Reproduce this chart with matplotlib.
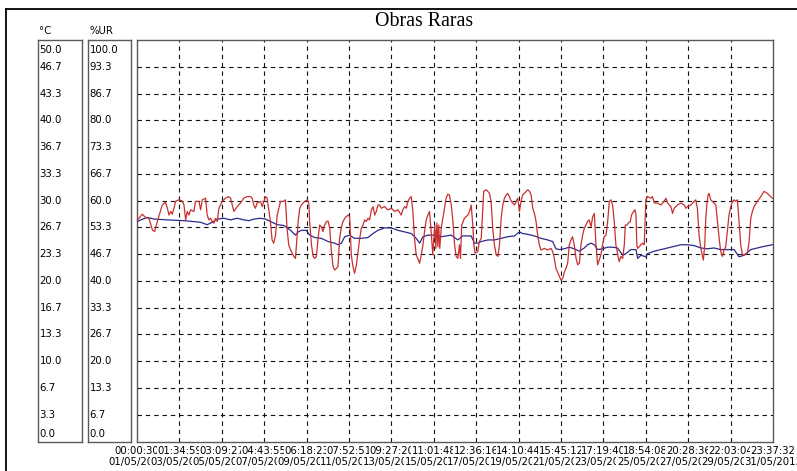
import matplotlib
matplotlib.use("Agg")
import matplotlib.pyplot as plt
from matplotlib.lines import Line2D
from matplotlib.transforms import blended_transform_factory

# ---------------- data ----------------
title = "Obras Raras"
temp_unit = "°C"
rh_unit = "%UR"

temp_labels = ["0.0", "3.3", "6.7", "10.0", "13.3", "16.7", "20.0", "23.3",
               "26.7", "30.0", "33.3", "36.7", "40.0", "43.3", "46.7", "50.0"]
rh_labels = ["0.0", "6.7", "13.3", "20.0", "26.7", "33.3", "40.0", "46.7",
             "53.3", "60.0", "66.7", "73.3", "80.0", "86.7", "93.3", "100.0"]

time_labels = ["00:00:30", "01:34:59", "03:09:27", "04:43:55", "06:18:23",
               "07:52:51", "09:27:20", "11:01:48", "12:36:16", "14:10:44",
               "15:45:12", "17:19:40", "18:54:08", "20:28:36", "22:03:04",
               "23:37:32"]
date_labels = ["01/05/2013", "03/05/2013", "05/05/2013", "07/05/2013",
               "09/05/2013", "11/05/2013", "13/05/2013", "15/05/2013",
               "17/05/2013", "19/05/2013", "21/05/2013", "23/05/2013",
               "25/05/2013", "27/05/2013", "29/05/2013", "31/05/2013"]

span_days = 30.984  # 01/05 00:00:30 -> 31/05 23:37:32

# relative humidity readings: (days since start, %UR)
humidity = [
    (0.02, 55.2), (0.26, 56.6), (0.42, 55.8), (0.58, 55.6), (0.75, 52.7), (0.86, 52.3),
    (0.99, 54.8), (1.23, 58.9), (1.39, 59.6), (1.48, 58.1), (1.56, 56.4), (1.64, 57.3),
    (1.72, 56.6), (1.80, 58.1), (1.88, 59.8), (2.04, 60.2), (2.20, 59.9), (2.29, 58.9),
    (2.37, 55.2), (2.45, 57.3), (2.53, 56.4), (2.61, 57.7), (2.77, 57.3), (2.85, 59.8),
    (3.02, 59.8), (3.10, 57.7), (3.18, 60.2), (3.34, 60.6), (3.42, 56.4), (3.50, 55.2),
    (3.58, 55.6), (3.66, 54.8), (3.75, 54.4), (3.83, 55.6), (3.91, 54.8), (3.99, 58.1),
    (4.15, 59.8), (4.31, 60.6), (4.47, 61.0), (4.56, 60.6), (4.64, 58.9), (4.72, 57.3),
    (4.88, 58.5), (5.04, 59.4), (5.20, 60.6), (5.37, 61.0), (5.53, 61.0), (5.61, 60.6),
    (5.69, 58.9), (5.77, 58.1), (5.85, 59.4), (6.02, 59.8), (6.10, 58.5), (6.18, 59.8),
    (6.26, 61.0), (6.34, 60.6), (6.42, 57.7), (6.50, 54.8), (6.58, 50.2), (6.66, 49.4),
    (6.75, 51.4), (6.83, 56.4), (6.91, 58.1), (6.99, 59.8), (7.15, 59.8), (7.23, 60.2),
    (7.31, 53.1), (7.39, 49.0), (7.48, 47.7), (7.64, 46.1), (7.72, 45.6),
    (7.77, 49.0), (7.85, 54.8), (7.93, 58.1), (8.01, 58.9), (8.17, 59.8), (8.30, 60.2),
    (8.37, 59.4), (8.41, 54.8), (8.50, 49.0), (8.58, 46.1), (8.66, 45.6), (8.74, 46.1),
    (8.82, 50.6), (8.90, 53.9), (8.98, 53.5), (9.06, 52.3), (9.14, 53.9), (9.23, 54.8),
    (9.31, 54.9), (9.39, 53.1), (9.47, 47.3), (9.55, 43.6), (9.63, 42.7), (9.71, 43.1),
    (9.79, 43.6), (9.87, 50.6), (9.96, 53.5), (10.04, 54.8), (10.12, 55.6), (10.20, 56.0),
    (10.28, 56.4), (10.36, 56.0), (10.44, 46.5), (10.52, 43.6), (10.60, 41.9), (10.69, 44.0),
    (10.77, 47.3), (10.85, 50.6), (10.93, 53.1), (11.01, 53.9), (11.09, 55.2), (11.17, 54.8),
    (11.25, 55.6), (11.33, 55.2), (11.42, 57.7), (11.50, 58.5), (11.58, 56.4), (11.66, 57.3),
    (11.74, 58.9), (11.82, 58.9), (11.90, 58.1), (12.06, 58.5), (12.22, 57.7), (12.39, 58.1),
    (12.55, 57.3), (12.71, 57.7), (12.87, 56.4), (12.95, 57.7), (13.04, 58.5), (13.12, 58.1),
    (13.20, 59.8), (13.28, 60.6), (13.36, 61.0), (13.44, 57.3), (13.52, 50.6), (13.60, 46.5),
    (13.68, 45.6), (13.77, 44.4), (13.85, 46.5), (13.93, 49.0), (14.01, 52.3), (14.09, 55.2),
    (14.17, 56.4), (14.25, 57.3), (14.33, 52.3), (14.41, 46.5), (14.46, 50.6), (14.51, 53.9),
    (14.56, 48.1), (14.61, 54.4), (14.66, 48.5), (14.70, 53.9), (14.75, 48.1), (14.82, 53.1),
    (14.90, 55.6), (14.98, 58.1), (15.06, 60.6), (15.14, 61.6), (15.22, 61.4), (15.31, 58.9),
    (15.39, 54.8), (15.47, 49.0), (15.55, 46.1), (15.63, 45.6), (15.71, 49.0),
    (15.76, 45.6), (15.82, 53.9), (15.95, 55.6), (16.12, 56.4), (16.20, 57.3), (16.28, 58.9),
    (16.36, 53.9), (16.41, 49.0), (16.47, 46.9), (16.60, 47.3), (16.68, 49.8), (16.77, 50.6),
    (16.85, 58.1), (16.89, 62.3), (17.01, 62.7), (17.09, 62.3), (17.17, 61.8), (17.25, 59.8),
    (17.33, 53.1), (17.41, 49.0), (17.50, 46.5), (17.58, 46.1), (17.66, 49.0), (17.74, 55.6),
    (17.82, 58.9), (17.90, 60.6), (17.98, 61.4), (18.06, 61.8), (18.14, 61.0), (18.23, 59.8),
    (18.31, 59.4), (18.39, 58.9), (18.47, 59.8), (18.55, 60.6), (18.63, 57.3), (18.71, 59.8),
    (18.79, 61.4), (18.87, 61.8), (18.96, 62.3), (19.04, 62.7), (19.12, 62.3), (19.20, 61.4),
    (19.28, 58.1), (19.36, 56.8), (19.44, 54.8), (19.52, 51.4), (19.60, 49.0), (19.68, 47.7),
    (19.85, 48.1), (20.01, 47.7), (20.17, 48.1), (20.25, 47.3), (20.33, 45.6), (20.41, 43.1),
    (20.49, 42.2), (20.58, 41.1), (20.66, 40.2), (20.74, 40.6), (20.82, 42.2), (20.90, 43.1),
    (20.98, 44.4), (21.06, 49.0), (21.14, 50.2), (21.22, 51.0), (21.30, 49.0), (21.39, 45.6),
    (21.47, 44.0), (21.55, 44.4), (21.63, 49.0), (21.71, 51.4), (21.79, 53.1), (21.87, 53.9),
    (21.95, 54.8), (22.03, 55.2), (22.12, 53.5), (22.20, 56.0), (22.28, 56.8), (22.36, 49.0),
    (22.44, 44.0), (22.52, 45.2), (22.60, 46.5), (22.68, 49.0), (22.76, 51.0), (22.85, 51.4),
    (22.93, 54.8), (23.01, 59.8), (23.09, 60.2), (23.17, 58.9), (23.25, 54.8), (23.33, 49.0),
    (23.41, 46.9),
    (23.49, 44.8), (23.58, 46.1), (23.66, 45.6), (23.74, 49.0), (23.79, 53.9), (23.87, 53.9),
    (23.93, 54.4), (24.03, 54.8), (24.09, 56.4), (24.19, 57.3), (24.26, 57.7), (24.31, 56.4),
    (24.35, 49.0), (24.39, 48.1), (24.47, 48.5), (24.55, 49.0), (24.63, 49.4), (24.71, 49.0),
    (24.74, 53.1), (24.79, 60.2), (24.87, 61.0), (25.04, 60.6), (25.11, 61.0), (25.20, 59.4),
    (25.36, 59.4), (25.52, 58.9), (25.68, 59.8), (25.77, 60.6), (25.85, 59.4), (26.01, 58.5),
    (26.09, 56.8), (26.17, 58.1), (26.33, 58.9), (26.49, 59.4), (26.66, 58.9), (26.74, 58.1),
    (26.82, 58.5), (26.98, 58.9), (27.14, 59.8), (27.22, 60.2), (27.30, 58.1), (27.38, 51.4),
    (27.47, 48.1), (27.55, 46.1), (27.59, 45.2), (27.66, 49.0), (27.71, 55.6), (27.76, 58.9),
    (27.82, 61.4), (27.87, 61.8), (27.95, 60.2), (28.03, 59.8), (28.11, 59.4), (28.20, 58.9),
    (28.28, 54.8), (28.36, 50.6), (28.44, 47.3), (28.52, 46.1), (28.60, 47.7), (28.68, 48.5),
    (28.76, 52.3), (28.84, 56.4), (28.93, 58.5), (29.01, 59.8), (29.09, 60.2), (29.17, 59.8),
    (29.25, 60.2), (29.33, 54.8), (29.41, 49.0), (29.50, 46.5), (29.58, 46.5), (29.74, 46.9),
    (29.82, 49.8), (29.90, 55.6), (29.98, 57.3), (30.06, 58.5), (30.22, 59.8), (30.39, 61.0),
    (30.55, 62.3), (30.71, 61.8), (30.79, 61.4), (30.87, 61.0), (30.95, 60.6),
]

# temperature readings: (days since start, °C)
temperature = [
    (0.02, 27.4), (0.18, 27.6), (0.50, 27.9), (0.83, 27.7), (1.48, 27.6), (2.29, 27.5),
    (3.10, 27.3), (3.42, 27.0), (3.66, 27.3), (3.91, 27.7), (4.23, 27.8), (4.56, 27.6),
    (4.88, 27.8), (5.20, 27.6), (5.45, 27.5), (5.69, 27.7), (6.02, 27.8), (6.26, 27.7),
    (6.50, 27.4), (6.83, 27.0), (7.15, 26.9), (7.48, 26.3), (7.72, 25.7), (7.85, 26.1),
    (8.01, 26.3), (8.25, 26.3), (8.41, 25.7), (8.66, 25.4), (8.98, 25.3), (9.31, 24.9),
    (9.63, 24.7), (9.79, 24.5), (9.96, 24.7), (10.12, 25.5), (10.36, 25.7), (10.60, 25.3),
    (10.93, 25.3), (11.25, 25.4), (11.50, 25.9), (11.74, 26.3), (12.06, 26.6), (12.39, 26.6),
    (12.71, 26.3), (13.04, 26.1), (13.36, 25.9), (13.60, 25.3), (13.77, 24.7), (13.93, 25.5),
    (14.17, 25.7), (14.50, 25.7), (14.82, 25.5), (15.31, 25.7), (15.63, 25.1), (15.87, 25.6),
    (16.28, 25.6), (16.44, 24.7), (16.60, 24.7), (16.77, 24.9), (17.09, 25.1), (17.41, 25.1),
    (17.74, 25.3), (18.06, 25.5), (18.39, 25.6), (18.63, 26.1), (18.79, 25.9), (19.04, 25.8),
    (19.36, 25.6), (19.68, 25.3), (20.01, 25.1), (20.25, 24.9), (20.41, 24.0), (20.58, 23.9),
    (20.82, 24.0), (21.06, 24.2), (21.30, 24.0), (21.55, 23.7), (21.79, 24.1), (21.95, 24.5),
    (22.12, 24.7), (22.28, 24.5), (22.44, 23.9), (22.68, 24.0), (22.93, 24.2), (23.17, 24.2),
    (23.41, 24.1), (23.66, 23.2), (23.82, 23.4), (24.06, 23.9), (24.31, 23.9), (24.39, 22.8),
    (24.55, 23.2), (24.79, 23.0), (24.87, 23.4), (25.20, 23.7), (25.52, 23.9), (25.85, 24.1),
    (26.17, 24.3), (26.49, 24.5), (26.82, 24.5), (27.14, 24.4), (27.47, 24.1), (27.79, 24.0),
    (28.11, 24.1), (28.44, 23.9), (28.76, 23.9), (29.09, 23.9), (29.33, 23.0), (29.58, 23.2),
    (29.90, 23.9), (30.22, 24.1), (30.55, 24.3), (30.95, 24.5),
]

# ---------------- layout ----------------
W, H = 797, 471
fig = plt.figure(figsize=(W / 100, H / 100), dpi=100)
fig.patch.set_facecolor("white")


def rect(x0, y0, x1, y1):
    return [x0 / W, 1 - y1 / H, (x1 - x0) / W, (y1 - y0) / H]


TOP, BOT = 40, 441.5
box_col = "#5a5a5a"
fs = 7.3
n_div = 15

# outer frame
fig.add_artist(Line2D([6 / W, 1.0], [1 - 9 / H, 1 - 9 / H], color="black", lw=1.3))
fig.add_artist(Line2D([6 / W, 6 / W], [0, 1 - 9 / H], color="black", lw=1.3))

fig.text(424 / W, 1 - 21 / H, title, family="Liberation Serif", fontsize=14.3,
         ha="center", va="center")

# main plot
ax = fig.add_axes(rect(137, TOP, 773, BOT))
ax.set_xlim(0, span_days)
ax.set_ylim(0, 50)
ax.set_xticks([])
ax.set_yticks([])
for s in ax.spines.values():
    s.set_color(box_col)
    s.set_linewidth(1.0)

for i in range(1, n_div):
    ax.axvline(i * span_days / n_div, color="#111111", lw=0.8, ls=(0, (4, 3.5)), zorder=1)
    ax.axhline(i * 50 / n_div, color="#111111", lw=0.8, ls=(0, (4, 3.5)), zorder=1)

ax_rh = ax.twinx()
ax_rh.set_ylim(0, 100)
ax_rh.set_yticks([])
for s in ax_rh.spines.values():
    s.set_visible(False)

ax.plot([p[0] for p in temperature], [p[1] for p in temperature],
        color="#2a2a8c", lw=0.9, zorder=3)
ax_rh.plot([p[0] for p in humidity], [p[1] for p in humidity],
           color="#c83030", lw=0.9, zorder=3)

# x labels (two rows); later labels are painted over earlier ones as in the source
xt = ax.get_xaxis_transform()
bg = dict(facecolor="white", edgecolor="none", pad=0.2)
for i in range(n_div + 1):
    xp = i * span_days / n_div
    ax.text(xp, -0.0237, time_labels[i], transform=xt, ha="center", va="center",
            fontsize=fs, clip_on=False, bbox=bg, zorder=10 + i)
    ax.text(xp, -0.051, date_labels[i], transform=xt, ha="center", va="center",
            fontsize=fs, clip_on=False, bbox=bg, zorder=10 + i)

# scale boxes
def scale_box(x0, x1, vmax, labels, unit):
    b = fig.add_axes(rect(x0, TOP, x1, BOT))
    b.set_xlim(0, 1)
    b.set_ylim(0, vmax)
    b.set_xticks([])
    b.set_yticks([])
    for s in b.spines.values():
        s.set_color(box_col)
        s.set_linewidth(1.0)
    tr = blended_transform_factory(b.transAxes, b.transData)
    step = vmax / n_div
    for i, lab in enumerate(labels):
        y = i * step
        if i == 0:
            y = vmax * 7.7 / 401.5
        elif i == n_div:
            y = vmax - vmax * 9.7 / 401.5
        b.text(0.035, y, lab, transform=tr, ha="left", va="center", fontsize=fs)
    fig.text((x0 + 1.5) / W, 1 - 31 / H, unit, ha="left", va="center", fontsize=fs)
    return b


scale_box(38, 81.5, 50, temp_labels, temp_unit)
scale_box(88, 131, 100, rh_labels, rh_unit)

fig.savefig("out.png", dpi=100, facecolor="white")
